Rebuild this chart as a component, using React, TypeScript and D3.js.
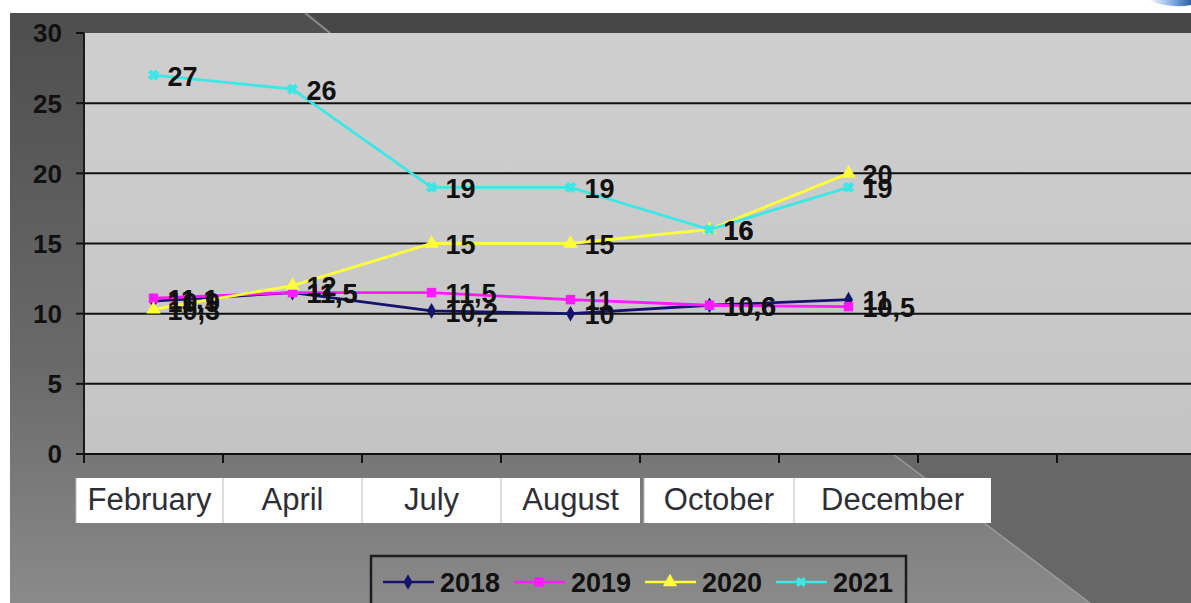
import * as d3 from 'd3'

const months = ['February', 'April', 'July', 'August', 'October', 'December']
const slots = 8 // the axis keeps two empty categories on the right
const years = ['2018', '2019', '2020', '2021']
const v2018 = [10.9, 11.5, 10.2, 10, 10.6, 11]
const v2019 = [11.1, 11.5, 11.5, 11, 10.6, 10.5]
const v2020 = [10.3, 12, 15, 15, 16, 20]
const v2021 = [27, 26, 19, 19, 16, 19]
const yTicks = [0, 5, 10, 15, 20, 25, 30]

const W = 1191
const H = 603
const plot = { left: 84, top: 33, right: 1196, bottom: 454 }

const colors = ['#14146e', '#ff1aff', '#ffff3a', '#3ee6e6']
const symbols = [d3.symbolDiamond, d3.symbolSquare, d3.symbolTriangle, d3.symbolCross]
const symSize = [70, 90, 90, 60]

const fmt = (v: number) => String(v).replace('.', ',')

export default function App() {
  const x = d3.scaleBand<number>().domain(d3.range(slots)).range([plot.left, plot.right])
  const y = d3.scaleLinear().domain([0, 30]).range([plot.bottom, plot.top])
  const cx = (i: number) => (x(i) ?? 0) + x.bandwidth() / 2
  const series = [v2018, v2019, v2020, v2021]
  const line = d3.line<number>().x((_, i) => cx(i)).y(d => y(d))

  const labelFont = '"Liberation Sans", Arial, sans-serif'

  // white label boxes sit on the bands, the last two pasted a little to the right
  const boxes = months.map((m, i) => {
    const b0 = x(i) ?? 0
    if (i === 0) return { m, bx: b0 - 8, bw: x.bandwidth() + 8 }
    if (i === 4) return { m, bx: b0 + 4, bw: x.bandwidth() + 11 }
    if (i === 5) return { m, bx: b0 + 15, bw: 197 }
    return { m, bx: b0, bw: x.bandwidth() }
  })

  return (
    <svg width={W} height={H} style={{ position: 'absolute', left: 0, top: 0 }}>
      <defs>
        <linearGradient id="panel" x1="0" y1="0" x2="0" y2="1">
          <stop offset="0%" stopColor="#4e4e4e" />
          <stop offset="60%" stopColor="#6a6a6a" />
          <stop offset="100%" stopColor="#8a8a8a" />
        </linearGradient>
        <linearGradient id="plotbg" x1="0" y1="0" x2="0" y2="1">
          <stop offset="0%" stopColor="#cfcfcf" />
          <stop offset="100%" stopColor="#c4c4c4" />
        </linearGradient>
        <linearGradient id="logo" x1="0" y1="0" x2="1" y2="0">
          <stop offset="0%" stopColor="#ffffff" />
          <stop offset="50%" stopColor="#8fb8e8" />
          <stop offset="100%" stopColor="#2a5fa8" />
        </linearGradient>
      </defs>
      <rect width={W} height={H} fill="#fff" />
      <rect x={10} y={13} width={W - 10} height={H - 13} fill="url(#panel)" />
      {/* slide decoration: top band and diagonals */}
      <polygon points={`310,13 ${W},13 ${W},33 332,33`} fill="#474747" />
      <line x1={305} y1={13} x2={330} y2={33} stroke="#8a8a8a" strokeWidth={2} />
      <polygon points={`893,454 ${W},454 ${W},${H} 1090,${H}`} fill="#676767" />
      <line x1={893} y1={454} x2={1090} y2={H} stroke="#9a9a9a" strokeWidth={1.5} />
      <path d={`M1148,0 Q1170,9 ${W},5 L${W},0 Z`} fill="url(#logo)" />

      <rect x={plot.left} y={plot.top} width={W - plot.left} height={plot.bottom - plot.top} fill="url(#plotbg)" />

      {/* gridlines */}
      {yTicks.filter(t => t > 0 && t < 30).map(t => (
        <line key={t} x1={plot.left} x2={W} y1={y(t)} y2={y(t)} stroke="#111" strokeWidth={2} />
      ))}
      {/* axes */}
      <line x1={plot.left} x2={plot.left} y1={plot.top} y2={plot.bottom} stroke="#1a1a1a" strokeWidth={2} />
      <line x1={plot.left} x2={W} y1={plot.bottom} y2={plot.bottom} stroke="#111" strokeWidth={2} />
      {yTicks.map(t => (
        <g key={t}>
          <line x1={plot.left - 8} x2={plot.left} y1={y(t)} y2={y(t)} stroke="#111" strokeWidth={2} />
          <text x={62} y={y(t)} dy="0.36em" textAnchor="end" fontFamily={labelFont} fontWeight="bold" fontSize={26} fill="#111">{t}</text>
        </g>
      ))}
      {d3.range(slots + 1).map(i => {
        const xx = i < slots ? (x(i) ?? 0) : plot.right
        return <line key={i} x1={xx} x2={xx} y1={plot.bottom} y2={plot.bottom + 9} stroke="#111" strokeWidth={2} />
      })}

      {/* month labels on white boxes */}
      {boxes.map(({ m, bx, bw }) => (
        <g key={m}>
          <rect x={bx} y={478} width={bw} height={45} fill="#fff" />
          <line x1={bx} x2={bx} y1={478} y2={523} stroke="#bbb" />
          <text x={bx + bw / 2} y={510} textAnchor="middle" fontFamily={labelFont} fontSize={31} fill="#2e2e36">{m}</text>
        </g>
      ))}

      {/* series */}
      {series.map((s, k) => (
        <g key={years[k]}>
          <path d={line(s) ?? ''} fill="none" stroke={colors[k]} strokeWidth={2.8} />
          {s.map((v, i) => (
            <path key={i} d={d3.symbol(symbols[k], symSize[k])() ?? ''}
              transform={`translate(${cx(i)},${y(v)})${k === 3 ? ' rotate(45)' : ''}`}
              fill={colors[k]} stroke={k === 3 ? colors[k] : 'none'} />
          ))}
        </g>
      ))}
      {series.map((s, k) => (
        <g key={'l' + years[k]}>
          {s.map((v, i) => (
            <text key={i} x={cx(i) + 14} y={y(v)} dy="0.4em" fontFamily={labelFont} fontWeight="bold" fontSize={27} fill="#111">{fmt(v)}</text>
          ))}
        </g>
      ))}

      {/* legend */}
      <rect x={371} y={556} width={535} height={60} fill="none" stroke="#1c1c1c" strokeWidth={2.5} />
      {years.map((yr, k) => {
        const lx = 383 + k * 131
        return (
          <g key={yr}>
            <line x1={lx} x2={lx + 51} y1={582} y2={582} stroke={colors[k]} strokeWidth={2.5} />
            <path d={d3.symbol(symbols[k], symSize[k])() ?? ''}
              transform={`translate(${lx + 25},582)${k === 3 ? ' rotate(45)' : ''}`} fill={colors[k]} />
            <text x={lx + 57} y={582} dy="0.36em" fontFamily={labelFont} fontWeight="bold" fontSize={27} fill="#111">{yr}</text>
          </g>
        )
      })}
    </svg>
  )
}
